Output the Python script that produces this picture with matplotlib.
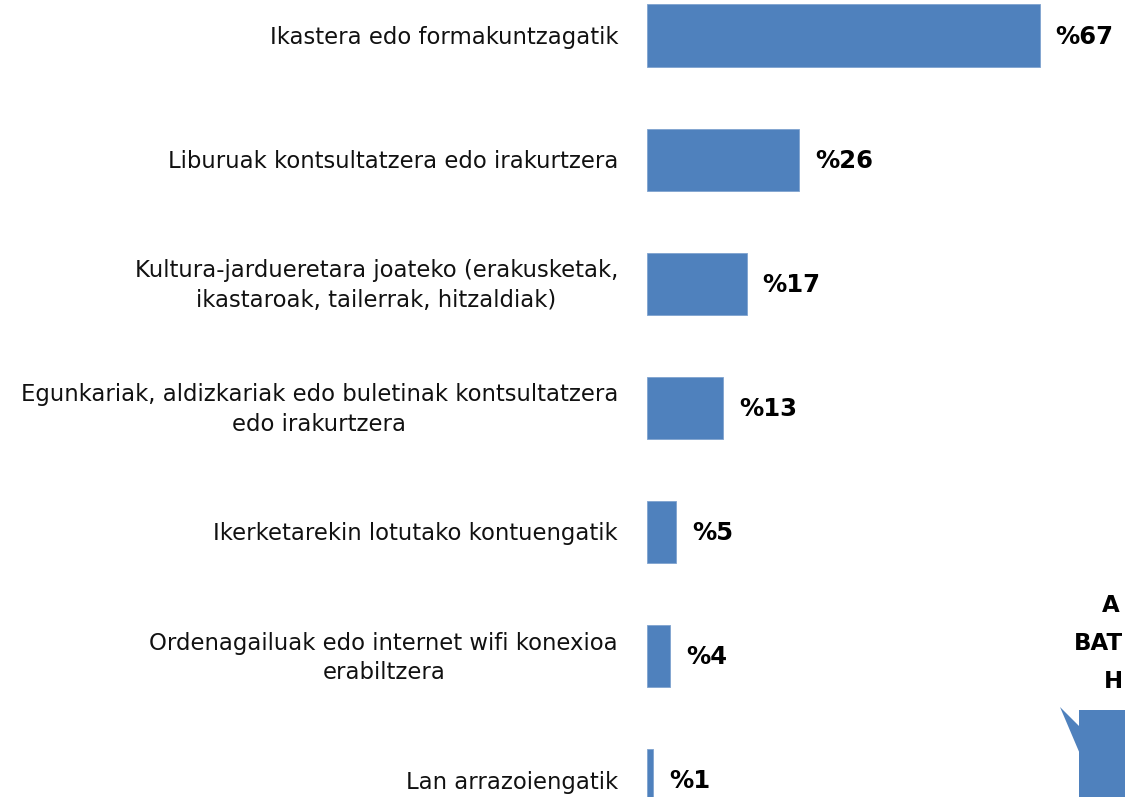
import matplotlib
matplotlib.use("Agg")
import matplotlib.pyplot as plt
from matplotlib.patches import Polygon, Rectangle
from matplotlib.transforms import Affine2D

categories = [
    "Ikastera edo formakuntzagatik",
    "Liburuak kontsultatzera edo irakurtzera",
    "Kultura-jardueretara joateko (erakusketak,\nikastaroak, tailerrak, hitzaldiak)",
    "Egunkariak, aldizkariak edo buletinak kontsultatzera\nedo irakurtzera",
    "Ikerketarekin lotutako kontuengatik",
    "Ordenagailuak edo internet wifi konexioa\nerabiltzera",
    "Lan arrazoiengatik",
]
values = [67, 26, 17, 13, 5, 4, 1]
value_labels = [f"%{v}" for v in values]
callout_lines = ["A", "BAT", "H"]

W, H = 1125, 797
BLUE = "#4F81BD"

fig = plt.figure(figsize=(W / 100, H / 100), dpi=100)
fig.patch.set_facecolor("white")

# axes spans from the bar baseline to the right edge, full height
x0 = 647
px_per_unit = 5.86
ax = fig.add_axes([x0 / W, 0, 1 - x0 / W, 1])
ax.set_xlim(0, (W - x0) / px_per_unit)
step = 124.1
first = 35.5
ax.set_ylim((H - first) / step, -first / step)
ax.axis("off")

ypos = list(range(len(values)))
ax.barh(ypos, values, height=0.5, color=BLUE, edgecolor="#7FA3CF", linewidth=0.6)

for y, v, lab in zip(ypos, values, value_labels):
    ax.annotate(lab, (v, y), xytext=(16, -1), textcoords="offset pixels",
                ha="left", va="center", fontsize=17.5, fontweight="bold",
                family="DejaVu Sans", color="black")

for y, cat in zip(ypos, categories):
    ax.annotate(cat, (0, y), xytext=(-29, -2), textcoords="offset pixels",
                ha="right", va="center", multialignment="center",
                fontsize=16.4, family="DejaVu Sans", color="#111111",
                linespacing=1.38, annotation_clip=False)

# callout shape partly visible at bottom right
pix = Affine2D().scale(1.0 / W, -1.0 / H).translate(0, 1) + fig.transFigure
fig.patches.append(Rectangle((1079, 710), 80, 120, transform=pix,
                             facecolor=BLUE, edgecolor="none"))
fig.patches.append(Polygon([(1060, 707), (1080, 727), (1080, 754)], closed=True,
                           transform=pix, facecolor=BLUE, edgecolor="none"))
for (lx, ly), txt in zip([(1102, 605), (1074, 643), (1104, 682)], callout_lines):
    fig.text(lx / W, 1 - ly / H, txt, ha="left", va="center", fontsize=16.5,
             fontweight="bold", family="DejaVu Sans", color="black")

fig.savefig("out.png", dpi=100)
